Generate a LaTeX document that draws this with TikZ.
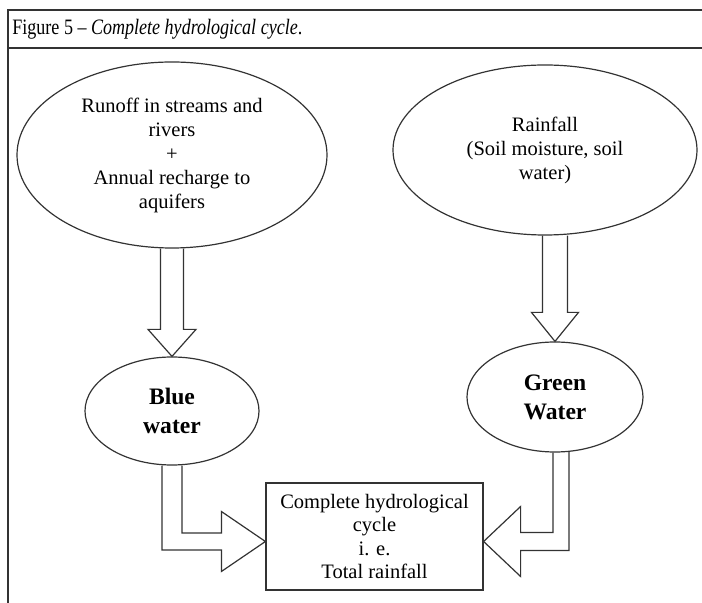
\documentclass[tikz,border=0pt]{standalone}
\usepackage{fontspec}
\setmainfont{Liberation Serif}
\usepackage{graphicx}
\usetikzlibrary{shapes.geometric}
\usetikzlibrary{calc}

\begin{document}
\begin{tikzpicture}[x=0.5pt,y=-0.5pt,
  oval/.style={draw=Ink, line width=0.6pt, ellipse, inner sep=0pt, align=center,
    font=\fontsize{10.25}{12}\selectfont},
  boldoval/.style={oval, font=\fontsize{11.8}{14.5}\selectfont\bfseries},
  fat/.style={draw=Ink, line width=0.6pt, line join=miter}]
\definecolor{Ink}{gray}{0.2}

\useasboundingbox (0,0) rectangle (702,603);

% frame and caption
\draw[Ink, line width=0.7pt] (8,603) -- (8,10) -- (702,10);
\draw[Ink, line width=0.7pt] (8,48) -- (702,48);
\node[anchor=base west, inner sep=0pt] (caption) at (12,35)
  {\fontsize{11}{13}\selectfont\scalebox{0.82}[1]{Figure 5 -- \textit{Complete hydrological cycle}.}};

% the four ovals and the box
\node[oval, minimum width=155pt, minimum height=93pt] (runoff) at (172,155)
  {Runoff in streams and\\ rivers\\ +\\ Annual recharge to\\ aquifers};
\node[oval, minimum width=152pt, minimum height=85pt] (rain) at (545,150)
  {Rainfall\\ (Soil moisture, soil\\ water)};
\node[boldoval, minimum width=87pt, minimum height=54pt] (blue) at (172,411) {Blue\\ water};
\node[boldoval, minimum width=88pt, minimum height=55pt] (green) at (555,397) {Green\\ Water};
\node[draw=Ink, line width=0.6pt, minimum width=108.5pt, minimum height=53.5pt, inner sep=0pt,
  align=center, font=\fontsize{10.25}{11.75}\selectfont] (box) at (374.5,536.5)
  {Complete hydrological\\ cycle\\ i. e.\\ Total rainfall};

\coordinate (bt) at ($(box.west)+(0,5)$);
\coordinate (gt) at ($(box.east)+(0,5)$);

% block arrows
\draw[fat] ($(runoff.south)+(-11.5,0)$) -- ($(blue.north)+(-11.5,-27)$) -- ($(blue.north)+(-24,-27)$)
  -- (blue.north) -- ($(blue.north)+(24,-27)$) -- ($(blue.north)+(11.5,-27)$) -- ($(runoff.south)+(11.5,0)$);

\draw[fat] ($(green.north |- rain.south)+(-12.5,0)$) -- ($(green.north)+(-12.5,-29)$) -- ($(green.north)+(-23.5,-29)$)
  -- (green.north) -- ($(green.north)+(23.5,-29)$) -- ($(green.north)+(12.5,-29)$) -- ($(green.north |- rain.south)+(12.5,0)$);

\draw[fat] ($(blue.south)+(-10,0)$) -- ($(blue.south |- bt)+(-10,8.5)$) -- ($(bt)+(-44,8.5)$) -- ($(bt)+(-44,30)$)
  -- (bt) -- ($(bt)+(-44,-30)$) -- ($(bt)+(-44,-8.5)$) -- ($(blue.south |- bt)+(10,-8.5)$) -- ($(blue.south)+(10,0)$);

\draw[fat] ($(green.south)+(-2,0)$) -- ($(green.south |- gt)+(-2,-9)$) -- ($(gt)+(37,-9)$) -- ($(gt)+(37,-35)$)
  -- (gt) -- ($(gt)+(37,35)$) -- ($(gt)+(37,9)$) -- ($(green.south |- gt)+(14,9)$) -- ($(green.south)+(14,-0.7)$);

\end{tikzpicture}
\end{document}
